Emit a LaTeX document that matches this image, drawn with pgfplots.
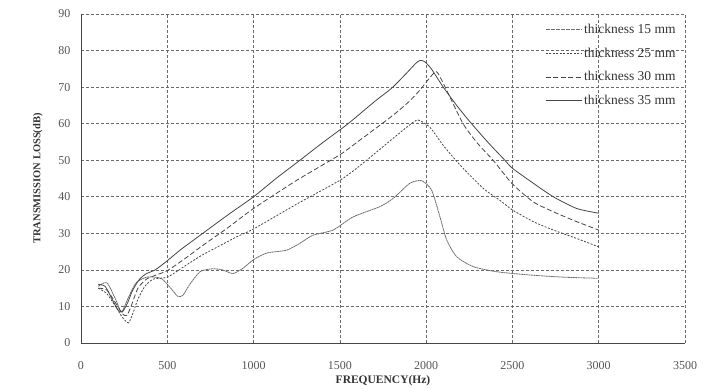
\documentclass[border=0pt]{standalone}
\usepackage{pgfplots}
\pgfplotsset{compat=1.18}
\usepackage{fontspec}
\setmainfont{Liberation Serif}
\definecolor{ln}{RGB}{70,70,70}
\definecolor{ln15}{RGB}{110,110,110}
\definecolor{gridc}{RGB}{105,105,105}
\definecolor{txt}{RGB}{85,85,85}
\begin{document}
\begin{tikzpicture}
\begin{axis}[
  name=ax,
  scale only axis, width=604pt, height=329pt,
  xmin=0, xmax=3500, ymin=0, ymax=90,
  xtick={0,500,...,3500}, ytick={0,10,...,90},
  axis lines=left, axis line style={-, draw=ln, line width=0.9pt},
  major tick length=0pt,
  grid=major, major grid style={gridc, line width=0.6pt, dash pattern=on 3pt off 2pt},
  /pgf/number format/assume math mode=true,
  /pgf/number format/set thousands separator={},
  ticklabel style={font=\fontsize{12}{14}\selectfont, text=txt},
  xticklabel style={yshift=-15pt},
  yticklabel style={xshift=-7pt},
  xlabel={\textbf{FREQUENCY(Hz)}}, ylabel={\textbf{TRANSMISSION LOSS(dB)}},
  label style={text=black!80},
  xlabel style={font=\fontsize{11.5}{13}\selectfont, yshift=1pt},
  ylabel style={font=\fontsize{10.5}{12}\selectfont, yshift=9pt},
  legend style={draw=none, fill=none, at={(0.988,0.975)}, anchor=north east,
    font=\fontsize{13.5}{15}\selectfont, row sep=8.7pt, inner sep=0pt, text=black!80},
  legend cell align=left,
  legend image code/.code={\draw[#1] (0pt,0pt) -- (36pt,0pt);},
  every axis plot/.append style={line width=0.8pt, smooth, tension=0.4},
]
\addplot[ln15, dash pattern=on 2pt off 0.5pt] coordinates {
(100,15.5) (150,16.5) (200,12) (235,8.5) (270,12) (320,16.5) (380,18) (430,18)
(470,17.5) (520,15) (560,12.8) (590,13) (630,16) (690,19.5) (760,20.3) (820,20)
(880,19) (940,20.5) (1000,22.8) (1076,24.6) (1192,25.4) (1269,27.3) (1345,29.5)
(1461,30.9) (1577,34.5) (1732,37.3) (1810,39.6) (1906,43.7) (1974,44.4) (2032,41.8)
(2080,34.5) (2119,28.2) (2177,23.6) (2273,20.9) (2408,19.5) (2601,18.6) (2800,18) (3000,17.7)};
\addlegendentry{thickness 15 mm}
\addplot[ln, dash pattern=on 2pt off 1.5pt] coordinates {
(100,15) (150,13.5) (200,10) (240,7) (275,5.5) (300,8) (330,12) (370,15.5) (420,17.5)
(500,18) (600,21) (700,24) (800,26.5) (900,29) (1000,31.2) (1250,38) (1500,44.5)
(1616,48.5) (1809,56) (1900,59.5) (1953,61) (2022,59) (2100,54) (2200,48.5) (2331,42.3)
(2428,39) (2500,36.4) (2621,33.2) (2737,30.9) (2872,28.6) (3000,26.3)};
\addlegendentry{thickness 25 mm}
\addplot[ln, dash pattern=on 5pt off 2.5pt] coordinates {
(100,15) (150,14.5) (200,11) (240,8) (265,7.5) (290,10) (330,15) (380,17.5) (430,18.5)
(500,19.8) (600,23) (700,26.5) (850,31.5) (1000,36.8) (1250,44.5) (1500,51.5) (1616,55.5)
(1800,62) (1900,66) (1964,69.2) (2020,72.5) (2061,74.2) (2110,70) (2214,60) (2300,54.5)
(2388,50) (2500,43.5) (2621,38.6) (2737,35.9) (2872,33.2) (3000,30.9)};
\addlegendentry{thickness 30 mm}
\addplot[ln] coordinates {
(100,16) (140,15.5) (180,12) (215,9) (240,8.5) (270,11) (300,14.5) (340,17.5) (380,19)
(430,20) (500,22.5) (574,25.4) (700,29.8) (850,35) (1000,40) (1130,45) (1269,50)
(1400,54.8) (1548,60) (1700,66) (1800,69.7) (1880,73.5) (1940,76.5) (1965,77.3)
(1990,77) (2030,75) (2099,70) (2180,64.8) (2263,60) (2360,54.8) (2456,50) (2500,47.8)
(2621,43.7) (2737,40) (2872,36.8) (3000,35.5)};
\addlegendentry{thickness 35 mm}
\end{axis}
\path ([xshift=-81pt,yshift=-47pt]ax.south west) rectangle ([xshift=33pt,yshift=14pt]ax.north east);
\end{tikzpicture}
\end{document}
